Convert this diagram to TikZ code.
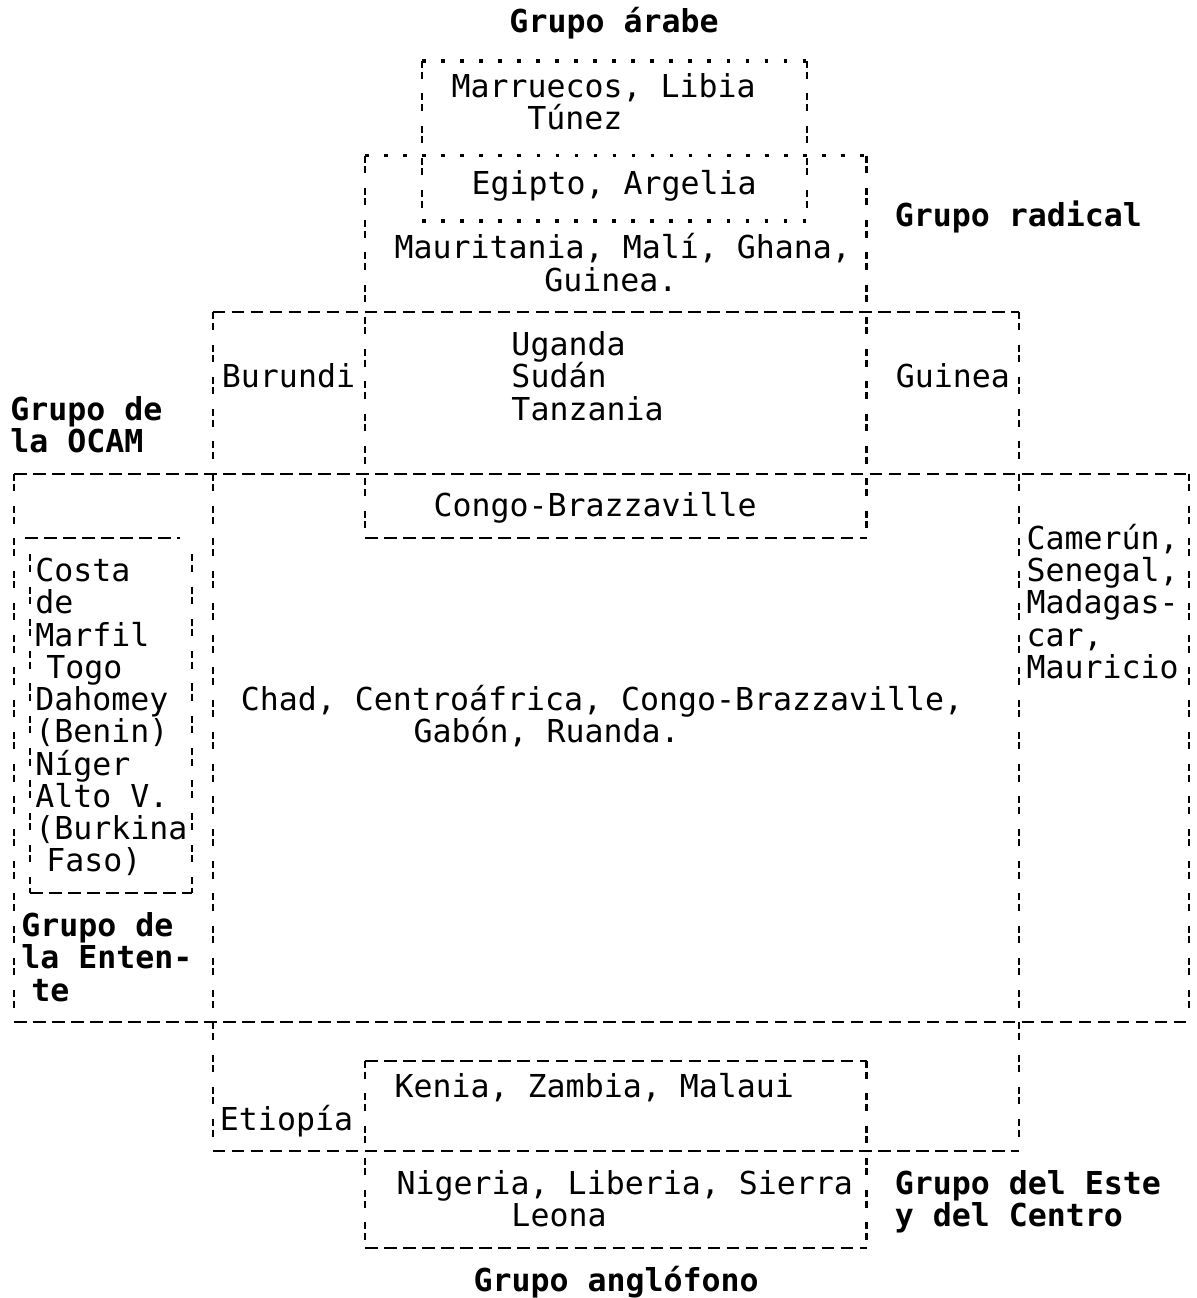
\documentclass[tikz,border=0pt]{standalone}
\usepackage{fontspec}
\newfontfamily\dotfont{DejaVu Sans Mono}

\begin{document}
\begin{tikzpicture}[x = 0.02cm, y = -0.6466cm,
	txt/.style = {anchor = base west, yshift = -0.22cm, inner sep = 0pt, font = \dotfont\fontsize{18}{20}\selectfont},
	lbl/.style = {txt, font = \dotfont\fontsize{18}{20}\selectfont\bfseries},
	hline/.style = {line width = 1.2pt, dash pattern = on 7.2pt off 3.64pt},
	vline/.style = {line width = 1.2pt, dash pattern = on 4pt off 2pt on 4pt off 8.4pt},
	dots/.style = {line width = 2.2pt, dash pattern = on 2.2pt off 8.64pt}]

	% Page
	
	\fill [white] (0, -0.68) rectangle (1199, 39.47);

	% Grupo arabe + Grupo radical (dotted tops)
	
	\draw [dots] (423, 1.21) -- (808, 1.21);
	\draw [dots] (423, 6.16) -- (808, 6.16);
	\draw [vline] (423, 1.21) -- (423, 6.16);
	\draw [vline] (808, 1.21) -- (808, 6.16);
	
	\draw [dots] (366, 4.14) -- (868, 4.14);
	\draw [vline] (366, 4.14) -- (366, 16);
	\draw [vline] (868, 4.14) -- (868, 16);
	\draw [hline] (366, 16) -- (868, 16);
	
	% Grupo de la OCAM
	
	\draw [hline] (213, 9) -- (1021, 9);
	\draw [hline] (14, 14) -- (1191, 14);
	\draw [hline] (14, 31) -- (1191, 31);
	\draw [vline] (213, 9) -- (213, 35);
	\draw [vline] (1021, 9) -- (1021, 35);
	\draw [vline] (14, 14) -- (14, 31);
	\draw [vline] (1191, 14) -- (1191, 31);
	
	% Grupo de la Entente (inner box)
	
	\draw [hline] (25, 16) -- (180, 16);
	\draw [vline] (30, 16.5) -- (30, 27);
	\draw [vline] (192, 16.5) -- (192, 27);
	\draw [hline] (30, 27) -- (192, 27);
	
	% Grupo anglofono + Etiopia
	
	\draw [hline] (213, 35) -- (1021, 35);
	\draw [hline] (366, 32.2) -- (868, 32.2);
	\draw [hline] (366, 38) -- (868, 38);
	\draw [vline] (366, 32.2) -- (366, 38);
	\draw [vline] (868, 32.2) -- (868, 38);

	% Group names
	
	\node [lbl] (arabe) at (510, 0) {Grupo árabe};
	\node [lbl] (radical) at (896, 6) {Grupo radical};
	\node [lbl] (ocam1) at (10, 12) {Grupo de};
	\node [lbl] (ocam2) at (10, 13) {la OCAM};
	\node [lbl] (entente1) at (21, 28) {Grupo de};
	\node [lbl] (entente2) at (21, 29) {la Enten-};
	\node [lbl] (entente3) at (31, 30) {te};
	\node [lbl] (este1) at (896, 36) {Grupo del Este};
	\node [lbl] (este2) at (896, 37) {y del Centro};
	\node [lbl] (anglo) at (474, 39) {Grupo anglófono};
	
	% Countries
	
	\node [txt] (marruecos) at (452, 2) {Marruecos, Libia};
	\node [txt] (tunez) at (528, 3) {Túnez};
	\node [txt] (egipto) at (472, 5) {Egipto, Argelia};
	\node [txt] (mauritania) at (395, 7) {Mauritania, Malí, Ghana,};
	\node [txt] (guinea1) at (545, 8) {Guinea.};
	
	\foreach \t [count = \k from 10] in {Uganda, Sudán, Tanzania}
		\node [txt] (centro-\k) at (512, \k) {\t};
	
	\node [txt] (burundi) at (222, 11) {Burundi};
	\node [txt] (guinea2) at (897, 11) {Guinea};
	\node [txt] (congo) at (434, 15) {Congo-Brazzaville};
	
	\node [txt] (costa) at (35, 17) {Costa};
	\node [txt] (de) at (35, 18) {de};
	\node [txt] (marfil) at (35, 19) {Marfil};
	\node [txt] (togo) at (46, 20) {Togo};
	\node [txt] (dahomey) at (35, 21) {Dahomey};
	\node [txt] (benin) at (35, 22) {(Benin)};
	\node [txt] (niger) at (35, 23) {Níger};
	\node [txt] (alto) at (35, 24) {Alto V.};
	\node [txt] (burkina) at (35, 25) {(Burkina};
	\node [txt] (faso) at (46, 26) {Faso)};
	
	\foreach \t [count = \k from 16] in {{Camerún,}, {Senegal,}, Madagas-, {car,}, Mauricio}
		\node [txt] (ocam-\k) at (1028, \k) {\t};
	
	\node [txt] (chad) at (241, 21) {Chad, Centroáfrica, Congo-Brazzaville,};
	\node [txt] (gabon) at (414, 22) {Gabón, Ruanda.};
	
	\node [txt] (kenia) at (395, 33) {Kenia, Zambia, Malaui};
	\node [txt] (etiopia) at (220, 34) {Etiopía};
	\node [txt] (nigeria) at (397, 36) {Nigeria, Liberia, Sierra};
	\node [txt] (leona) at (512, 37) {Leona};

\end{tikzpicture}
\end{document}
